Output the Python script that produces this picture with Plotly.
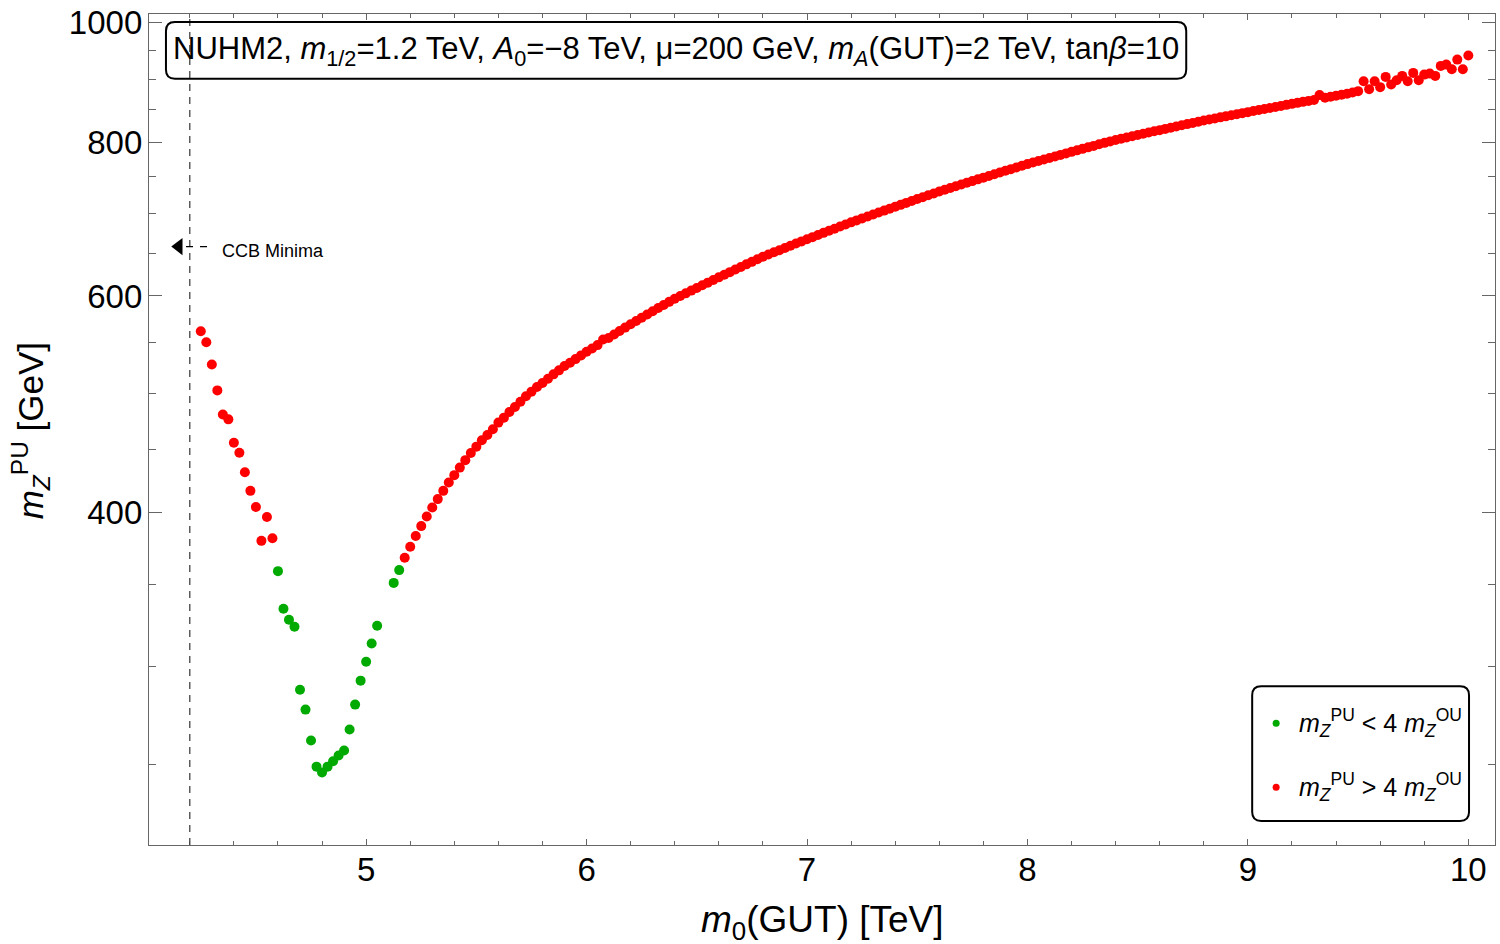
import math
import plotly.graph_objects as go

# scan points: m0(GUT) in TeV, m_Z^PU in GeV
m0_left = [4.25, 4.275, 4.3, 4.325, 4.35, 4.375, 4.4, 4.425, 4.45, 4.475,
           4.5, 4.525, 4.55, 4.575, 4.6, 4.625, 4.65, 4.675, 4.7, 4.725,
           4.75, 4.775, 4.8, 4.825, 4.85, 4.875, 4.9, 4.925, 4.95, 4.975,
           5.0, 5.025, 5.05]
mz_left = [561.6, 550.2, 527.9, 502.9, 480.8, 476.4, 456.0, 447.6, 431.5, 416.8,
           404.4, 379.6, 396.9, 381.5, 358.7, 334.3, 327.5, 323.3, 287.4, 276.9,
           261.4, 248.9, 246.2, 248.9, 251.4, 254.1, 256.5, 266.8, 279.5, 292.3,
           302.8, 313.3, 323.9]

m0_right = [5.125, 5.15, 5.175, 5.2, 5.225, 5.25, 5.275, 5.3, 5.325, 5.35,
            5.375, 5.4, 5.425, 5.45, 5.475, 5.5, 5.525, 5.55, 5.575, 5.6,
            5.625, 5.65, 5.675, 5.7, 5.725, 5.75, 5.775, 5.8, 5.825, 5.85,
            5.875, 5.9, 5.925, 5.95, 5.975, 6.0, 6.025, 6.05, 6.075, 6.1,
            6.125, 6.15, 6.175, 6.2, 6.225, 6.25, 6.275, 6.3, 6.325, 6.35,
            6.375, 6.4, 6.425, 6.45, 6.475, 6.5, 6.525, 6.55, 6.575, 6.6,
            6.625, 6.65, 6.675, 6.7, 6.725, 6.75, 6.775, 6.8, 6.825, 6.85,
            6.875, 6.9, 6.925, 6.95, 6.975, 7.0, 7.025, 7.05, 7.075, 7.1,
            7.125, 7.15, 7.175, 7.2, 7.225, 7.25, 7.275, 7.3, 7.325, 7.35,
            7.375, 7.4, 7.425, 7.45, 7.475, 7.5, 7.525, 7.55, 7.575, 7.6,
            7.625, 7.65, 7.675, 7.7, 7.725, 7.75, 7.775, 7.8, 7.825, 7.85,
            7.875, 7.9, 7.925, 7.95, 7.975, 8.0, 8.025, 8.05, 8.075, 8.1,
            8.125, 8.15, 8.175, 8.2, 8.225, 8.25, 8.275, 8.3, 8.325, 8.35,
            8.375, 8.4, 8.425, 8.45, 8.475, 8.5, 8.525, 8.55, 8.575, 8.6,
            8.625, 8.65, 8.675, 8.7, 8.725, 8.75, 8.775, 8.8, 8.825, 8.85,
            8.875, 8.9, 8.925, 8.95, 8.975, 9.0, 9.025, 9.05, 9.075, 9.1,
            9.125, 9.15, 9.175, 9.2, 9.225, 9.25, 9.275, 9.3, 9.325, 9.35,
            9.375, 9.4, 9.425, 9.45, 9.475, 9.5, 9.525, 9.55, 9.575, 9.6,
            9.625, 9.65, 9.675, 9.7, 9.725, 9.75, 9.775, 9.8, 9.825, 9.85,
            9.875, 9.9, 9.925, 9.95, 9.975, 10.0]
mz_right = [350.9, 359.4, 367.8, 375.4, 383.0, 390.2, 397.3, 404.0, 410.4, 416.8,
            423.3, 429.2, 435.3, 441.4, 447.4, 452.7, 458.1, 462.7, 467.7, 473.5,
            477.9, 483.0, 487.5, 492.4, 497.4, 501.7, 506.1, 509.9, 514.0, 518.2,
            522.1, 526.3, 529.5, 533.2, 536.9, 540.5, 543.9, 547.3, 553.1, 554.7,
            558.3, 561.9, 565.5, 569.1, 572.6, 576.1, 579.6, 583.1, 586.6, 590.0,
            593.4, 596.8, 599.9, 602.9, 606.0, 609.0, 612.1, 615.1, 618.2, 621.2,
            624.3, 627.3, 630.4, 633.4, 636.5, 639.5, 642.6, 645.6, 648.3, 651.0,
            653.6, 656.3, 659.0, 661.7, 664.4, 667.0, 669.7, 672.4, 675.1, 677.8,
            680.4, 683.1, 685.8, 688.5, 691.0, 693.6, 696.1, 698.7, 701.2, 703.8,
            706.3, 708.9, 711.4, 714.0, 716.5, 719.1, 721.6, 724.2, 726.7, 729.3,
            731.7, 734.1, 736.5, 738.9, 741.3, 743.7, 746.1, 748.5, 750.9, 753.3,
            755.7, 758.1, 760.5, 762.9, 765.3, 767.7, 769.9, 772.1, 774.4, 776.6,
            778.8, 781.0, 783.2, 785.5, 787.7, 789.9, 792.1, 794.3, 796.6, 798.8,
            801.0, 803.2, 805.1, 806.9, 808.8, 810.6, 812.5, 814.3, 816.2, 818.0,
            819.9, 821.7, 823.6, 825.4, 827.3, 829.1, 831.0, 832.8, 834.5, 836.1,
            837.8, 839.4, 841.1, 842.7, 844.4, 846.0, 847.7, 849.3, 851.0, 852.6,
            854.3, 855.9, 857.6, 859.2, 860.8, 862.4, 864.0, 865.4, 873.4, 869.0,
            870.6, 872.3, 873.9, 875.5, 877.7, 879.9, 896.4, 883.2, 896.4, 886.5,
            903.6, 890.8, 898.1, 905.3, 896.4, 910.4, 898.1, 907.5, 909.2, 905.3,
            922.4, 924.6, 916.7, 933.3, 916.7, 940.6]

mz_ou = 91.19          # m_Z^OU, the cut is m_Z^PU < 4 m_Z^OU
ccb_m0 = 4.2           # CCB minima below this m0
ccb_y = 658            # height of the CCB note (GeV)

x_ticks = [5, 6, 7, 8, 9, 10]
x_minor = [4.2, 4.4, 4.6, 4.8, 5.2, 5.4, 5.6, 5.8, 6.2, 6.4, 6.6, 6.8, 7.2, 7.4,
           7.6, 7.8, 8.2, 8.4, 8.6, 8.8, 9.2, 9.4, 9.6, 9.8, 10.2]
y_ticks = [400, 600, 800, 1000]
y_minor = [250, 300, 350, 450, 500, 550, 650, 700, 750, 850, 900, 950]

GREEN = "rgb(0,170,0)"
RED = "rgb(255,0,0)"
FONT = "Liberation Sans, Arial, sans-serif"
W, H = 1500, 944
M = dict(l=149, r=4, t=12, b=99)
PW, PH = W - M["l"] - M["r"], H - M["t"] - M["b"]


def rounded_box(x0, y0, x1, y1, r=9):
    """SVG path of a rounded rectangle in paper coords (r in px)."""
    rx, ry = r / PW, r / PH
    return (f"M {x0 + rx},{y0} L {x1 - rx},{y0} Q {x1},{y0} {x1},{y0 + ry} "
            f"L {x1},{y1 - ry} Q {x1},{y1} {x1 - rx},{y1} "
            f"L {x0 + rx},{y1} Q {x0},{y1} {x0},{y1 - ry} "
            f"L {x0},{y0 + ry} Q {x0},{y0} {x0 + rx},{y0} Z")


m0 = m0_left + m0_right
mz = mz_left + mz_right
lo = [(a, b) for a, b in zip(m0, mz) if b < 4 * mz_ou]
hi = [(a, b) for a, b in zip(m0, mz) if b >= 4 * mz_ou]

fig = go.Figure()
for pts, col in [(hi, RED), (lo, GREEN)]:
    fig.add_trace(go.Scatter(x=[p[0] for p in pts], y=[p[1] for p in pts],
                             mode="markers", showlegend=False,
                             marker=dict(color=col, size=10, line_width=0)))

# arrow head of the CCB note
fig.add_trace(go.Scatter(x=[ccb_m0 - 0.05], y=[ccb_y], mode="markers",
                         showlegend=False, hoverinfo="skip",
                         marker=dict(symbol="triangle-left", size=15,
                                     color="black", line_width=0)))

axis_common = dict(showline=True, linecolor="#666", linewidth=1.3,
                   mirror="allticks", ticks="inside", tickcolor="#666",
                   showgrid=False, zeroline=False,
                   tickfont=dict(family=FONT, size=33, color="black"))
fig.update_xaxes(range=[4.015, 10.121], tickmode="array", tickvals=x_ticks,
                 ticklen=6, tickwidth=1.2, ticklabelstandoff=-5,
                 minor=dict(tickmode="array", tickvals=x_minor, ticks="inside",
                            ticklen=4, tickcolor="#666", tickwidth=1),
                 **axis_common)
fig.update_yaxes(type="log", range=[2.3324, 3.00705], tickmode="array",
                 tickvals=y_ticks, ticktext=[str(v) for v in y_ticks],
                 ticklen=13, tickwidth=1.2, ticklabelstandoff=-1,
                 minor=dict(tickmode="array", tickvals=y_minor, ticks="inside",
                            ticklen=7, tickcolor="#666", tickwidth=1),
                 **axis_common)

shapes = [
    dict(type="line", xref="x", yref="paper", x0=ccb_m0, x1=ccb_m0, y0=0, y1=1,
         line=dict(color="#444", width=1.3, dash="7px,6px")),
    dict(type="line", xref="x", yref="y", x0=ccb_m0 - 0.017, x1=ccb_m0 + 0.11,
         y0=ccb_y, y1=ccb_y, line=dict(color="black", width=1.2, dash="7px,7px")),
    dict(type="path", xref="paper", yref="paper", line=dict(color="black", width=2),
         path=rounded_box(0.0126, 0.9220, 0.7706, 0.9904)),
    dict(type="path", xref="paper", yref="paper", line=dict(color="black", width=2),
         path=rounded_box(0.8196, 0.0288, 0.9807, 0.1909)),
]
for yy, col in [(0.1465, GREEN), (0.0696, RED)]:
    shapes.append(dict(type="circle", xref="paper", yref="paper",
                       xsizemode="pixel", ysizemode="pixel",
                       xanchor=0.8374, yanchor=yy, x0=-3.5, x1=3.5, y0=-3.5, y1=3.5,
                       fillcolor=col, line_width=0))

mzpu = "<i>m</i><sub><i>Z</i></sub><sup>PU</sup>"
mzou = "<i>m</i><sub><i>Z</i></sub><sup>OU</sup>"
annotations = [
    dict(text=("NUHM2, <i>m</i><sub>1/2</sub>=1.2 TeV, <i>A</i><sub>0</sub>=\u22128 TeV, "
               "\u03bc=200 GeV, <i>m</i><sub><i>A</i></sub>(GUT)=2 TeV, tan<i>\u03b2</i>=10"),
         x=0.3916, y=0.956, font=dict(size=31)),
    # annotations on a log axis take log10 of the value
    dict(text="CCB Minima", x=ccb_m0 + 0.137, y=math.log10(ccb_y - 5), xref="x", yref="y",
         xanchor="left", font=dict(size=18)),
    dict(text=f"{mzpu} &lt; 4 {mzou}", x=0.853, y=0.1465, xanchor="left",
         font=dict(size=25)),
    dict(text=f"{mzpu} &gt; 4 {mzou}", x=0.853, y=0.0696, xanchor="left",
         font=dict(size=25)),
    dict(text="<i>m</i><sub>0</sub>(GUT) [TeV]", x=0.5, y=-0.0924, font=dict(size=37)),
    dict(text=f"{mzpu} [GeV]", x=-0.0883, y=0.498, textangle=-90, font=dict(size=35)),
]
for a in annotations:
    a.setdefault("xref", "paper")
    a.setdefault("yref", "paper")
    a.setdefault("xanchor", "center")
    a["yanchor"] = "middle"
    a["showarrow"] = False
    a["font"] = dict(family=FONT, color="black", **a["font"])

fig.update_layout(width=W, height=H, margin=M, plot_bgcolor="white",
                  paper_bgcolor="white", shapes=shapes, annotations=annotations,
                  font=dict(family=FONT, color="black"))

fig.write_html("out.html", config={"displayModeBar": False},
               post_script="document.body.style.margin='0px';")
